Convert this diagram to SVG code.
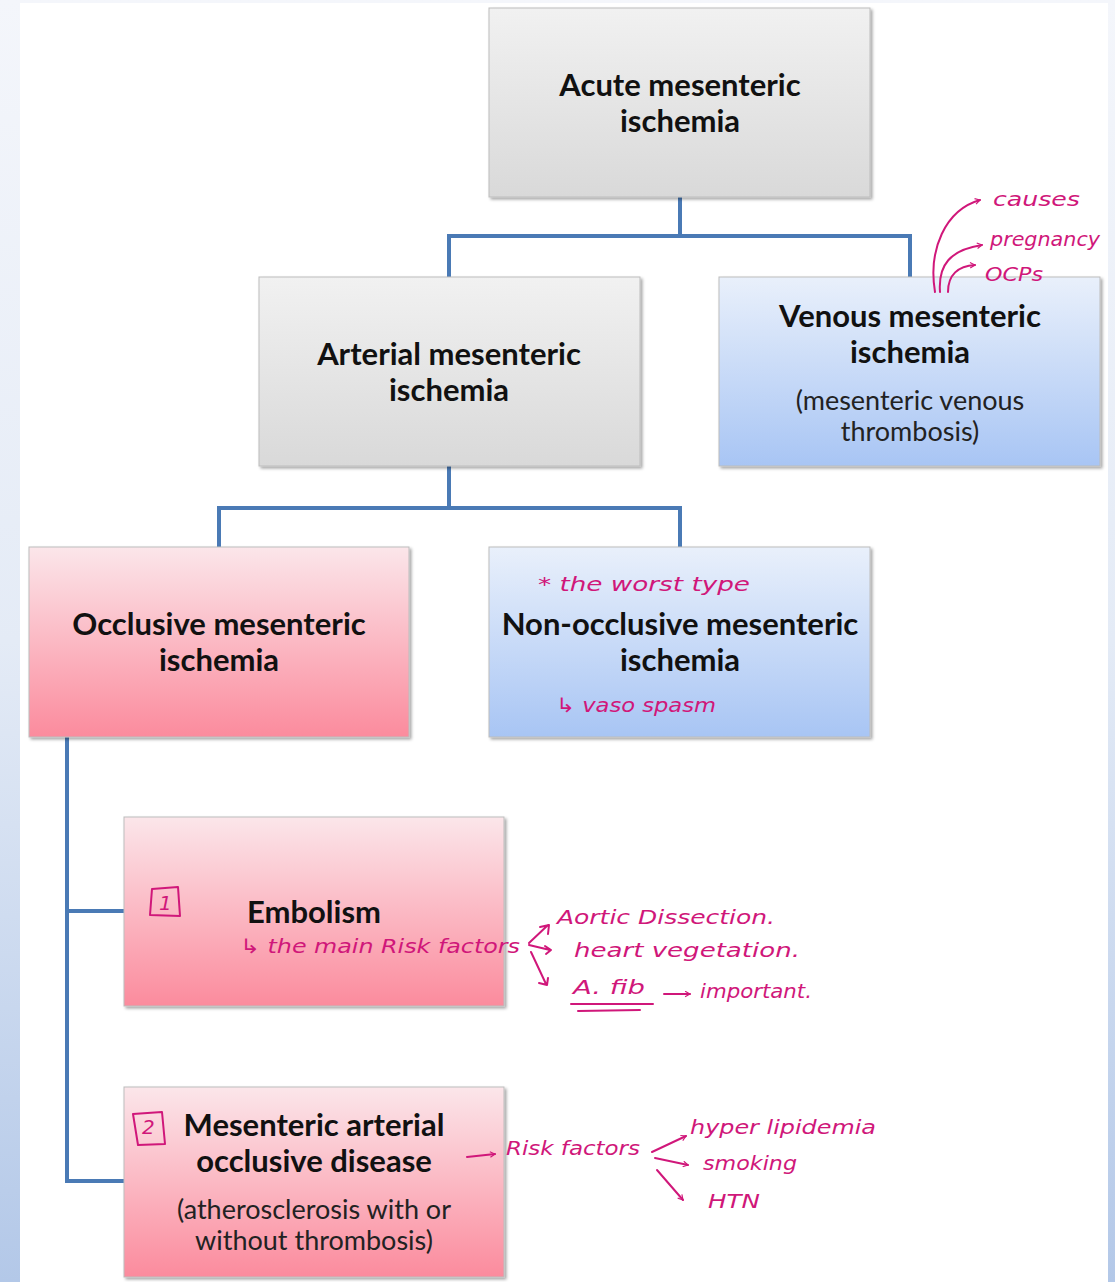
<svg xmlns="http://www.w3.org/2000/svg" width="1115" height="1282" viewBox="0 0 1115 1282">
<defs>
<linearGradient id="bg" x1="0" y1="0" x2="0" y2="1"><stop offset="0" stop-color="#f4f6fb"/><stop offset="0.5" stop-color="#e4ebf6"/><stop offset="1" stop-color="#b3c8e8"/></linearGradient>
<linearGradient id="gray" x1="0" y1="0" x2="0" y2="1"><stop offset="0" stop-color="#f1f1f1"/><stop offset="1" stop-color="#d9d9d9"/></linearGradient>
<linearGradient id="blue" x1="0" y1="0" x2="0" y2="1"><stop offset="0" stop-color="#e9f0fb"/><stop offset="1" stop-color="#a8c5f4"/></linearGradient>
<linearGradient id="pink" x1="0" y1="0" x2="0" y2="1"><stop offset="0" stop-color="#fbe6ea"/><stop offset="1" stop-color="#fb8b9d"/></linearGradient>
<filter id="sh" x="-5%" y="-5%" width="112%" height="112%"><feDropShadow dx="2" dy="2" stdDeviation="1.5" flood-color="#000" flood-opacity="0.35"/></filter>
<marker id="ha" viewBox="0 0 10 10" refX="8" refY="5" markerWidth="7" markerHeight="7" orient="auto" markerUnits="userSpaceOnUse"><path d="M1,1 L8,5 L1,9" fill="none" stroke="#d0177a" stroke-width="1.6"/></marker>
<style>
.box{stroke:#bdbdbd;stroke-width:1;filter:url(#sh)}
.t{font-family:Lato,"Liberation Sans",sans-serif;font-weight:700;font-size:31px;fill:#111;text-anchor:middle}
.r{font-family:Lato,"Liberation Sans",sans-serif;font-size:27px;fill:#222;text-anchor:middle}
.c{fill:none;stroke:#4a7ab5;stroke-width:4}
.h{font-family:"DejaVu Sans",sans-serif;font-style:italic;font-size:20px;fill:#d0177a}
.hl{fill:none;stroke:#d0177a;stroke-width:2;stroke-linecap:round;stroke-linejoin:round}
</style>
</defs>
<rect x="0" y="0" width="1115" height="1282" fill="url(#bg)"/>
<rect x="20" y="3" width="1088" height="1279" fill="#ffffff"/>

<g id="connectors">
<path class="c" d="M680,197 V236 M449,277 V236 H910 V277"/>
<path class="c" d="M449,466 V508 M219,547 V508 H680 V547"/>
<path class="c" d="M67,737 V1181 H124 M67,911 H124"/>
</g>

<g id="acute"><rect class="box" x="489" y="8" width="381" height="189" fill="url(#gray)"/>
<text class="t" x="680" y="96">Acute mesenteric</text><text class="t" x="680" y="132">ischemia</text></g>

<g id="arterial"><rect class="box" x="259" y="277" width="381" height="189" fill="url(#gray)"/>
<text class="t" x="449" y="365">Arterial mesenteric</text><text class="t" x="449" y="401">ischemia</text></g>

<g id="venous"><rect class="box" x="719" y="277" width="381" height="189" fill="url(#blue)"/>
<text class="t" x="910" y="327">Venous mesenteric</text><text class="t" x="910" y="363">ischemia</text>
<text class="r" x="910" y="410">(mesenteric venous</text><text class="r" x="910" y="441">thrombosis)</text></g>

<g id="occlusive"><rect class="box" x="29" y="547" width="380" height="190" fill="url(#pink)"/>
<text class="t" x="219" y="635">Occlusive mesenteric</text><text class="t" x="219" y="671">ischemia</text></g>

<g id="nonocclusive"><rect class="box" x="489" y="547" width="381" height="190" fill="url(#blue)"/>
<text class="t" x="680" y="635">Non-occlusive mesenteric</text><text class="t" x="680" y="671">ischemia</text></g>

<g id="embolism"><rect class="box" x="124" y="817" width="380" height="189" fill="url(#pink)"/>
<text class="t" x="314" y="923">Embolism</text></g>

<g id="maod"><rect class="box" x="124" y="1087" width="380" height="190" fill="url(#pink)"/>
<text class="t" x="314" y="1136">Mesenteric arterial</text><text class="t" x="314" y="1172">occlusive disease</text>
<text class="r" x="314" y="1219">(atherosclerosis with or</text><text class="r" x="314" y="1250">without thrombosis)</text></g>

<g id="annotations">
<path class="hl" d="M935,292 C928,250 945,210 980,200" marker-end="url(#ha)"/>
<path class="hl" d="M940,292 C938,265 950,250 982,245" marker-end="url(#ha)"/>
<path class="hl" d="M948,292 C948,275 958,266 975,265" marker-end="url(#ha)"/>
<text class="h" x="993" y="206" textLength="87" lengthAdjust="spacingAndGlyphs">causes</text>
<text class="h" x="990" y="246" textLength="110" lengthAdjust="spacingAndGlyphs">pregnancy</text>
<text class="h" x="985" y="281" textLength="58" lengthAdjust="spacingAndGlyphs">OCPs</text>

<text class="h" x="538" y="591" textLength="212" lengthAdjust="spacingAndGlyphs">* the worst type</text>
<text class="h" x="556" y="712" textLength="160" lengthAdjust="spacingAndGlyphs">↳ vaso spasm</text>

<path class="hl" d="M152,889 L150,915 L180,916 L178,887 L152,889"/>
<text class="h" x="159" y="910" font-size="16">1</text>
<text class="h" x="240" y="953" textLength="280" lengthAdjust="spacingAndGlyphs">↳ the main Risk factors</text>
<path class="hl" d="M529,943 L548,925 M540,927 L549,925 L548,934"/>
<path class="hl" d="M529,945 L550,950 M545,946 L551,950 L546,954"/>
<path class="hl" d="M531,952 L546,984 M539,983 L547,985 L548,978"/>
<text class="h" x="557" y="924" textLength="218" lengthAdjust="spacingAndGlyphs">Aortic Dissection.</text>
<text class="h" x="574" y="957" textLength="226" lengthAdjust="spacingAndGlyphs">heart vegetation.</text>
<text class="h" x="573" y="994" textLength="72" lengthAdjust="spacingAndGlyphs">A. fib</text>
<path class="hl" d="M571,1004 L653,1004 M578,1011 L640,1010"/>
<path class="hl" d="M664,994 L690,994" marker-end="url(#ha)"/>
<text class="h" x="700" y="998" textLength="112" lengthAdjust="spacingAndGlyphs">important.</text>

<path class="hl" d="M133,1114 L162,1112 L165,1144 L138,1145 L133,1114"/>
<text class="h" x="142" y="1134" font-size="16">2</text>
<path class="hl" d="M467,1157 L495,1154" marker-end="url(#ha)"/>
<text class="h" x="506" y="1155" textLength="134" lengthAdjust="spacingAndGlyphs">Risk factors</text>
<path class="hl" d="M652,1152 L686,1136" marker-end="url(#ha)"/>
<path class="hl" d="M655,1158 L688,1165" marker-end="url(#ha)"/>
<path class="hl" d="M657,1170 L683,1200" marker-end="url(#ha)"/>
<text class="h" x="690" y="1134" textLength="186" lengthAdjust="spacingAndGlyphs">hyper lipidemia</text>
<text class="h" x="703" y="1170" textLength="94" lengthAdjust="spacingAndGlyphs">smoking</text>
<text class="h" x="708" y="1208" textLength="52" lengthAdjust="spacingAndGlyphs">HTN</text>
</g>
</svg>
